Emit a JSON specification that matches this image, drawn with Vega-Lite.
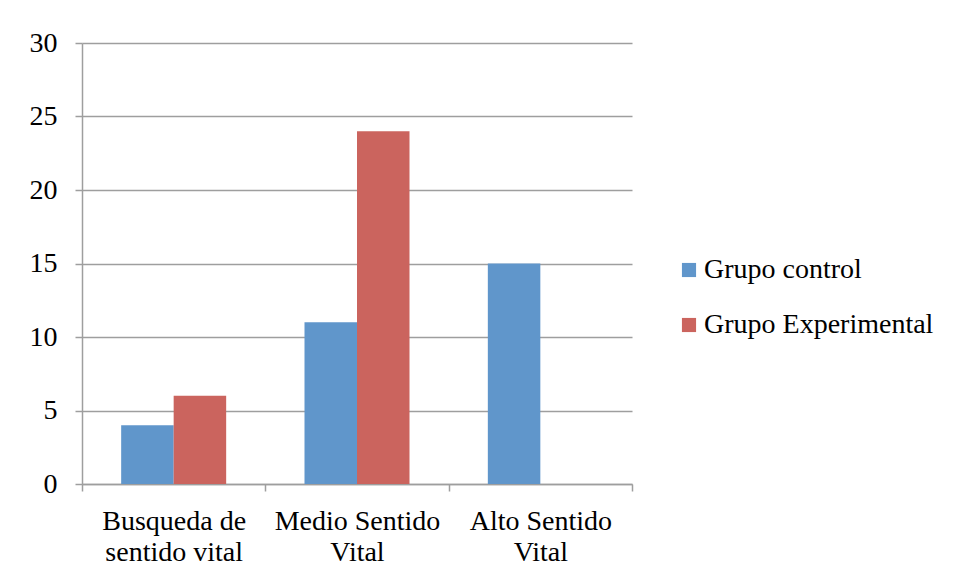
{
  "$schema": "https://vega.github.io/schema/vega-lite/v6.json",
  "autosize": "none",
  "width": 550,
  "height": 441,
  "padding": {"left": 82, "top": 43, "right": 325, "bottom": 96},
  "background": "white",
  "data": {
    "values": [
      {"categoria": "Busqueda de sentido vital", "grupo": "Grupo control", "valor": 4},
      {"categoria": "Busqueda de sentido vital", "grupo": "Grupo Experimental", "valor": 6},
      {"categoria": "Medio Sentido Vital", "grupo": "Grupo control", "valor": 11},
      {"categoria": "Medio Sentido Vital", "grupo": "Grupo Experimental", "valor": 24},
      {"categoria": "Alto Sentido Vital", "grupo": "Grupo control", "valor": 15},
      {"categoria": "Alto Sentido Vital", "grupo": "Grupo Experimental", "valor": 0}
    ]
  },
  "mark": {"type": "bar"},
  "encoding": {
    "x": {
      "field": "categoria",
      "type": "nominal",
      "sort": ["Busqueda de sentido vital", "Medio Sentido Vital", "Alto Sentido Vital"],
      "scale": {"paddingInner": 0, "paddingOuter": 0},
      "axis": {
        "title": null,
        "labelAngle": 0,
        "tickBand": "extent",
        "tickSize": 7,
        "tickColor": "#9e9e9e",
        "tickWidth": 1.5,
        "domainColor": "#9e9e9e",
        "domainWidth": 1.5,
        "labelFont": "Liberation Serif",
        "labelFontSize": 28,
        "labelColor": "#000000",
        "labelPadding": 16,
        "labelLineHeight": 31,
        "labelBaseline": "top",
        "labelExpr": "datum.value == 'Busqueda de sentido vital' ? ['Busqueda de', 'sentido vital'] : datum.value == 'Medio Sentido Vital' ? ['Medio Sentido', 'Vital'] : datum.value == 'Alto Sentido Vital' ? ['Alto Sentido', 'Vital'] : ''"
      }
    },
    "xOffset": {
      "field": "grupo",
      "type": "nominal",
      "sort": ["Grupo control", "Grupo Experimental"],
      "scale": {"paddingInner": 0, "paddingOuter": 0.746}
    },
    "y": {
      "field": "valor",
      "type": "quantitative",
      "scale": {"domain": [0, 30], "nice": false},
      "axis": {
        "title": null,
        "values": [0, 5, 10, 15, 20, 25, 30],
        "grid": true,
        "gridColor": "#9e9e9e",
        "gridWidth": 1.5,
        "tickSize": 7,
        "tickColor": "#9e9e9e",
        "tickWidth": 1.5,
        "domainColor": "#9e9e9e",
        "domainWidth": 1.5,
        "labelFont": "Liberation Serif",
        "labelFontSize": 28,
        "labelColor": "#000000",
        "labelPadding": 18
      }
    },
    "color": {
      "field": "grupo",
      "type": "nominal",
      "sort": ["Grupo control", "Grupo Experimental"],
      "scale": {"domain": ["Grupo control", "Grupo Experimental"], "range": ["#6096CB", "#CB645E"]},
      "legend": {
        "title": null,
        "orient": "none",
        "legendX": 593,
        "legendY": 213,
        "padding": 0,
        "symbolType": "square",
        "symbolSize": 200,
        "symbolStrokeWidth": 0,
        "labelFont": "Liberation Serif",
        "labelFontSize": 28,
        "labelColor": "#000000",
        "labelOffset": 1,
        "rowPadding": 27,
        "labelLimit": 400
      }
    }
  },
  "config": {
    "view": {"stroke": null}
  }
}
